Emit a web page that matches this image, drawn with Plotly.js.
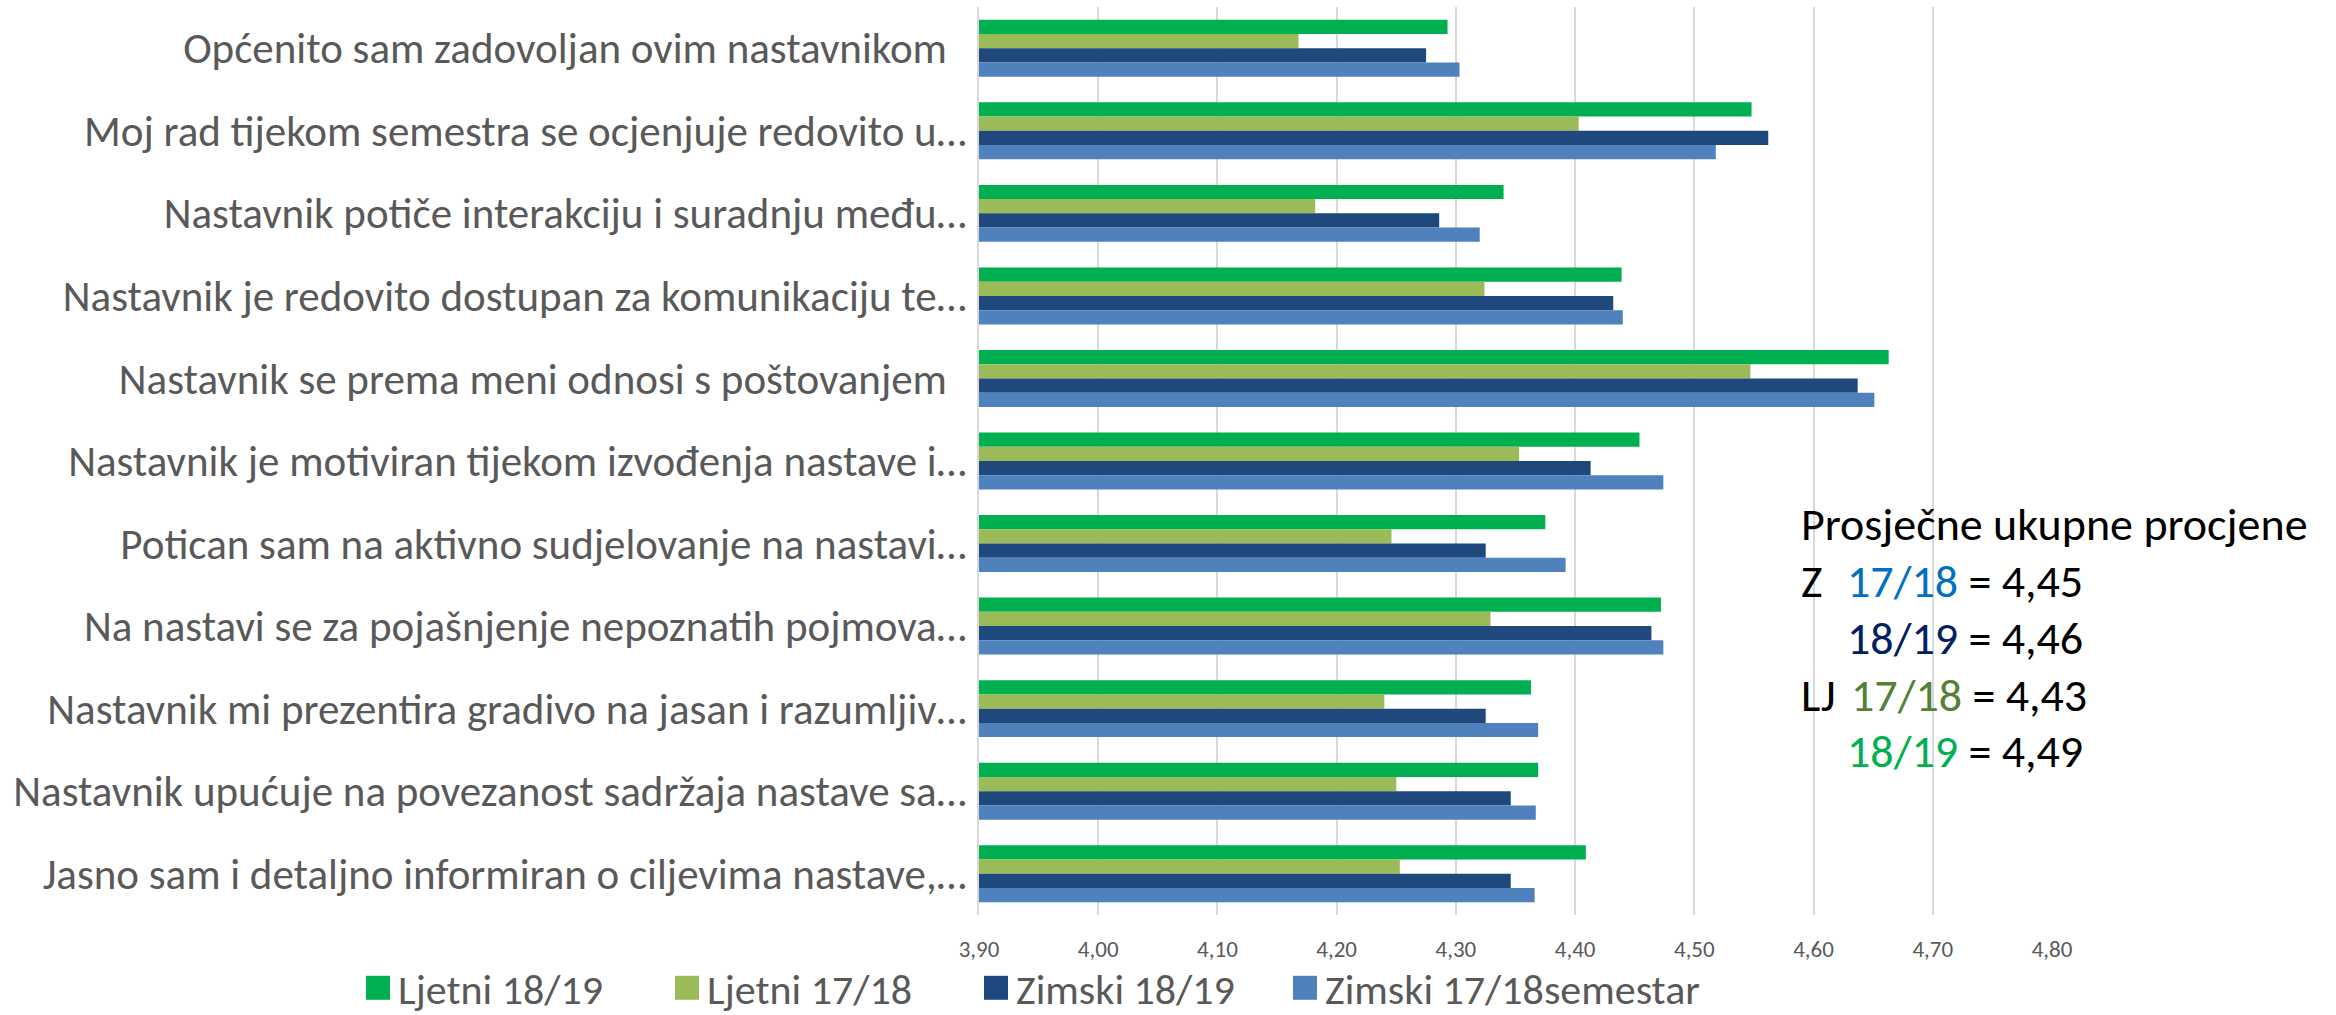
<!DOCTYPE html>
<html>
<head>
<meta charset="utf-8">
<script src="https://cdn.plot.ly/plotly-3.0.1.min.js"></script>
<style>
html,body{margin:0;padding:0;background:#fff;}
#chart{width:2336px;height:1015px;}
</style>
</head>
<body>
<div id="chart"></div>
<script>
// ---- data ----
const categories = [
  "Općenito sam zadovoljan ovim nastavnikom\u00a0\u00a0",
  "Moj rad tijekom semestra se ocjenjuje redovito u…",
  "Nastavnik potiče interakciju i suradnju među…",
  "Nastavnik je redovito dostupan za komunikaciju te…",
  "Nastavnik se prema meni odnosi s poštovanjem\u00a0\u00a0",
  "Nastavnik je motiviran tijekom izvođenja nastave i…",
  "Potican sam na aktivno sudjelovanje na nastavi…",
  "Na nastavi se za pojašnjenje nepoznatih pojmova…",
  "Nastavnik mi prezentira gradivo na jasan i razumljiv…",
  "Nastavnik upućuje na povezanost sadržaja nastave sa…",
  "Jasno sam i detaljno informiran o ciljevima nastave,…"
];
const seriesNames = ["Ljetni 18/19", "Ljetni 17/18", "Zimski 18/19", "Zimski 17/18semestar"];
const ljetni1819 = [4.293, 4.548, 4.340, 4.439, 4.663, 4.454, 4.375, 4.472, 4.363, 4.369, 4.409];
const ljetni1718 = [4.168, 4.403, 4.182, 4.324, 4.547, 4.353, 4.246, 4.329, 4.240, 4.250, 4.253];
const zimski1819 = [4.275, 4.562, 4.286, 4.432, 4.637, 4.413, 4.325, 4.464, 4.325, 4.346, 4.346];
const zimski1718 = [4.303, 4.518, 4.320, 4.440, 4.651, 4.474, 4.392, 4.474, 4.369, 4.367, 4.366];
const seriesColors = ["#00B050", "#9BBB59", "#1F497D", "#4F81BD"];
const xTickVals = [3.9, 4.0, 4.1, 4.2, 4.3, 4.4, 4.5, 4.6, 4.7, 4.8];
const xTickText = ["3,90", "4,00", "4,10", "4,20", "4,30", "4,40", "4,50", "4,60", "4,70", "4,80"];
// summary box
const summaryTitle = "Prosječne ukupne procjene";
const summaryPrefix = ["Z", "", "LJ", ""];
const summaryPeriod = ["17/18", "18/19", "17/18", "18/19"];
const summaryValue = ["4,45", "4,46", "4,43", "4,49"];
const summaryColors = ["#0070C0", "#002060", "#538135", "#00B050"];

// ---- chart ----
const FONT = "Carlito, 'Liberation Sans Narrow', 'Arial Narrow', 'Liberation Sans', sans-serif";
const FONT2 = "Carlito, 'Open Sans', 'Liberation Sans', sans-serif";
const seriesValues = [ljetni1819, ljetni1718, zimski1819, zimski1718];

const traces = seriesValues.map((vals, i) => ({
  type: "bar",
  orientation: "h",
  name: seriesNames[i],
  y: categories,
  x: vals,
  marker: {color: seriesColors[i], line: {width: 0}},
  hoverinfo: "none"
}));

// plot area geometry (pixels)
const W = 2336, H = 1015;
const L = 979, R = 284, T = 7, B = 100;
const pw = W - L - R, ph = H - T - B;
const px = x => (x - L) / pw;
const py = y => (H - B - y) / ph;

const ANN_SIZE = 46;
const annotations = [];
annotations.push({
  xref: "paper", yref: "paper", x: px(1799), y: py(524), xanchor: "left", yanchor: "middle",
  text: summaryTitle, showarrow: false, font: {family: FONT2, size: ANN_SIZE, color: "#000"}
});
const lineY = [581, 638, 695, 751];
for (let i = 0; i < 4; i++) {
  if (summaryPrefix[i]) {
    annotations.push({
      xref: "paper", yref: "paper", x: px(1799), y: py(lineY[i]), xanchor: "left", yanchor: "middle",
      text: summaryPrefix[i], showarrow: false, font: {family: FONT2, size: ANN_SIZE, color: "#000"}
    });
  }
  annotations.push({
    xref: "paper", yref: "paper", x: px(i === 2 ? 1849 : 1845), y: py(lineY[i]), xanchor: "left", yanchor: "middle",
    text: '<span style="color:' + summaryColors[i] + '">' + summaryPeriod[i] + '</span> = ' + summaryValue[i],
    showarrow: false, font: {family: FONT2, size: ANN_SIZE, color: "#000"}
  });
}

const layout = {
  width: W, height: H,
  margin: {l: L, r: R, t: T, b: B, pad: 0, autoexpand: false},
  paper_bgcolor: "#fff", plot_bgcolor: "#fff",
  barmode: "group", bargap: 0.31, bargroupgap: 0,
  font: {family: FONT, color: "#595959"},
  xaxis: {
    range: [3.9, 4.8], tickmode: "array", tickvals: xTickVals, ticktext: xTickText,
    showgrid: true, gridcolor: "#D9D9D9", gridwidth: 2, zeroline: false,
    showline: false, ticks: "", tickfont: {size: 23, color: "#595959", family: FONT},
    ticklabelstandoff: 18, fixedrange: true
  },
  yaxis: {
    type: "category", autorange: "reversed", showgrid: false, zeroline: false,
    showline: true, linecolor: "#D9D9D9", linewidth: 2, ticks: "",
    tickfont: {size: 43, color: "#595959", family: FONT}, ticklabelstandoff: 2, fixedrange: true
  },
  showlegend: true,
  legend: {
    orientation: "h", xref: "paper", yref: "paper", x: px(358), xanchor: "left",
    y: py(988), yanchor: "middle", font: {size: 42, color: "#595959", family: FONT},
    entrywidth: 264, entrywidthmode: "pixels", bgcolor: "rgba(0,0,0,0)",
    traceorder: "normal", itemclick: false, itemdoubleclick: false
  },
  annotations: annotations
};

Plotly.newPlot("chart", traces, layout, {displayModeBar: false, staticPlot: true}).then(gd => {
  // enlarge legend colour squares to match the reference (24px) and keep long entries unclipped
  gd.querySelectorAll(".legend .legendpoints path").forEach(p => {
    p.setAttribute("d", "M12,12H-12V-12H12Z");
  });
  gd.querySelectorAll(".legend [clip-path]").forEach(e => e.removeAttribute("clip-path"));
});
</script>
</body>
</html>
